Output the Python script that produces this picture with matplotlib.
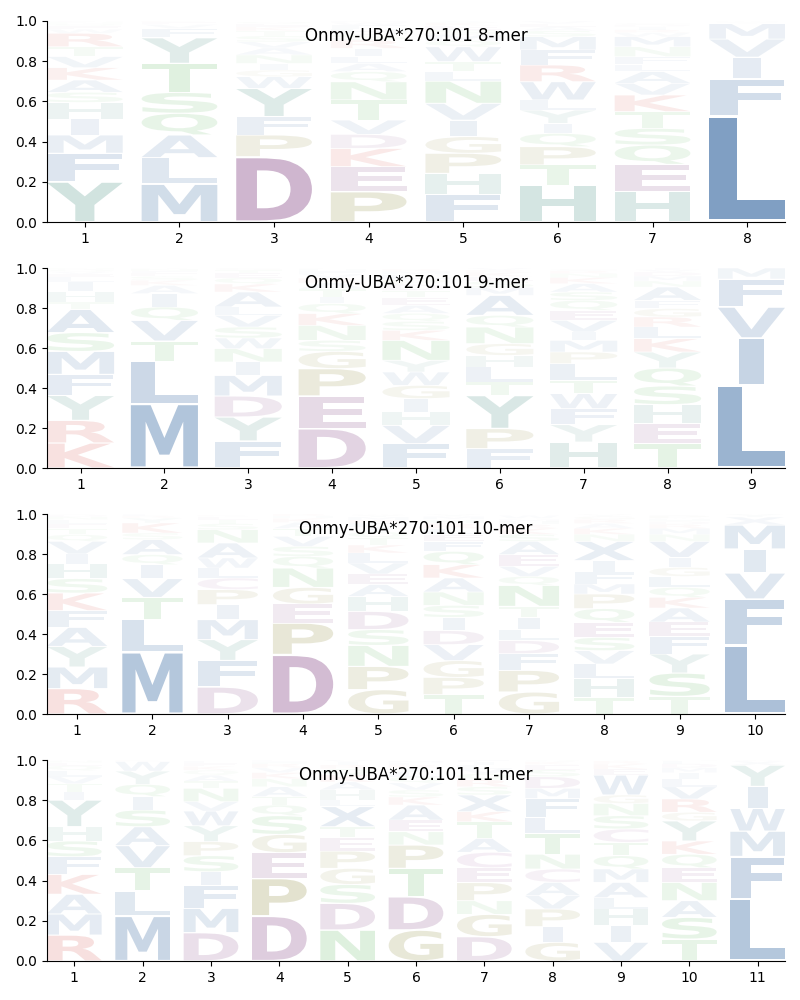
import matplotlib
matplotlib.use("Agg")
import matplotlib.pyplot as plt
from matplotlib.textpath import TextPath
from matplotlib.patches import PathPatch
from matplotlib.font_manager import FontProperties
from matplotlib.transforms import Affine2D

# ---------------- data (bottom -> top per position) ----------------
allele = "Onmy-UBA*270:101"

letters_8 = ["YFMIHSAKVTRWEQNC", "MLAQSTYFVEK", "DPFYWGINAVSTKEQ",
             "PEKDVTNQALIRSHFWM", "FHPGIVNLTWQMSEKA", "HTPQIYLWRFMSAEV",
             "HEQSTKVALFNMWRIDG", "LFIVMYW"]
freqs_8 = [
    [.2, .142, .091, .079, .083, .05, .061, .062, .055, .049, .067, .02, .015, .012, .008, .006],
    [.189, .131, .113, .108, .104, .144, .128, .046, .02, .012, .008],
    [.325, .108, .091, .141, .058, .033, .033, .042, .035, .03, .03, .025, .02, .015, .01],
    [.151, .124, .091, .07, .071, .1, .091, .05, .041, .034, .041, .041, .03, .025, .02, .012, .008],
    [.138, .104, .1, .083, .082, .083, .111, .047, .05, .074, .03, .03, .025, .02, .015, .008],
    [.184, .1, .091, .066, .05, .066, .05, .091, .083, .075, .066, .03, .02, .015, .013],
    [.151, .136, .096, .083, .083, .083, .058, .058, .036, .039, .049, .05, .02, .015, .015, .01, .008],
    [.53, .183, .107, .09, .077, .008, .005],
]

letters_9 = ["KRYFMSATHILEVQN", "MLTVQIAKSEFNR", "FYDMINWSVLAKQETG",
             "DEPGSNKQITARVFHL", "FVHIGWYNKSQAETDPLMR", "FPYTLHGNQAMSEKRV",
             "HYFWTLPMIVEQSAKNRG", "TEHSQYKLRGFANMDVI", "LIVFM"]
freqs_9 = [
    [.125, .113, .125, .105, .115, .094, .116, .037, .053, .047, .025, .015, .012, .01, .008],
    [.322, .213, .1, .103, .067, .067, .041, .025, .02, .015, .012, .01, .005],
    [.135, .12, .105, .103, .067, .067, .053, .055, .058, .042, .075, .04, .03, .025, .015, .01],
    [.197, .163, .137, .086, .055, .075, .059, .05, .033, .04, .03, .025, .02, .015, .01, .005],
    [.122, .091, .067, .067, .066, .067, .058, .1, .05, .045, .04, .04, .04, .035, .03, .025, .025, .015, .012],
    [.097, .1, .166, .067, .075, .058, .059, .083, .058, .1, .04, .03, .025, .02, .012, .01],
    [.13, .087, .08, .075, .066, .084, .058, .058, .042, .058, .05, .05, .042, .042, .03, .02, .015, .008],
    [.122, .1, .095, .093, .09, .08, .067, .058, .05, .042, .041, .067, .03, .025, .02, .012, .008],
    [.415, .235, .155, .14, .055],
]

letters_10 = ["RMYAFKSHIVQTELND", "MLTVIQASKYRF", "DFYMIPCLWANSTEK",
              "DPEGNQSVTAKHR", "GPNSDHAEVLKTQIFRMYW", "TPGVDISNAKQFELRHMY",
              "GPFDLITNQVEASKRHMYW", "THLVSEQPMFIXNKARGY", "TSYFEAKQLGIVNMRDHWP",
              "LFVIMXY"]
freqs_10 = [
    [.127, .108, .103, .095, .084, .088, .072, .073, .05, .063, .034, .03, .025, .02, .015, .01],
    [.31, .162, .111, .094, .07, .05, .075, .033, .05, .025, .012, .008],
    [.135, .133, .104, .1, .075, .075, .058, .05, .05, .075, .067, .03, .02, .015, .008],
    [.297, .158, .095, .083, .097, .058, .05, .05, .04, .03, .02, .012, .01],
    [.122, .116, .105, .079, .091, .075, .059, .053, .055, .05, .04, .035, .03, .025, .02, .015, .015, .01, .005],
    [.097, .086, .084, .08, .07, .066, .06, .067, .07, .067, .066, .05, .035, .03, .025, .02, .015, .01],
    [.11, .108, .084, .065, .055, .061, .055, .105, .045, .05, .059, .066, .035, .03, .02, .015, .01, .005, .015],
    [.083, .094, .073, .067, .066, .075, .069, .073, .05, .06, .057, .096, .035, .03, .025, .02, .015, .01],
    [.088, .117, .095, .088, .072, .07, .053, .05, .055, .045, .05, .08, .035, .03, .02, .015, .01, .005, .015],
    [.345, .23, .13, .12, .12, .04, .015],
]

letters_11 = ["RMAKFSHYITVLQENG", "MLTVASIQYWK", "DMFISPYWVNTAQKEL",
              "DPEGSQTANKVRHL", "NDSGPETXLHAKQRIV", "GDTPNEAKSVQLIRFM",
              "DGNPECATKXSRQVLIF", "GIPVACNTLFMDSEKQ", "VIHLAMQTCSNGWEKRY",
              "TSANEQKYGRVLIMDFH", "LFMWIYXV"]
freqs_11 = [
    [.129, .105, .098, .099, .088, .078, .071, .133, .041, .04, .035, .03, .025, .015, .01, .005],
    [.224, .124, .116, .11, .094, .083, .067, .061, .066, .047, .008],
    [.141, .121, .113, .069, .08, .07, .079, .073, .047, .066, .035, .03, .025, .02, .015, .01],
    [.224, .187, .128, .091, .093, .053, .042, .049, .04, .03, .025, .02, .01, .008],
    [.154, .133, .094, .08, .086, .067, .054, .1, .033, .05, .04, .035, .03, .02, .015, .01],
    [.154, .166, .141, .116, .066, .058, .075, .04, .035, .035, .03, .025, .02, .015, .01, .01],
    [.121, .111, .068, .09, .074, .077, .069, .083, .05, .083, .041, .035, .03, .025, .02, .015, .01],
    [.093, .078, .088, .066, .066, .067, .073, .104, .078, .096, .05, .058, .035, .025, .015, .008],
    [.093, .083, .083, .056, .076, .067, .066, .066, .067, .066, .061, .042, .099, .03, .025, .015, .005],
    [.109, .108, .083, .091, .073, .067, .066, .1, .043, .066, .061, .04, .03, .025, .02, .015, .005],
    [.31, .21, .126, .113, .11, .105, .02, .006],
]

panels = [("8-mer", letters_8, freqs_8), ("9-mer", letters_9, freqs_9),
          ("10-mer", letters_10, freqs_10), ("11-mer", letters_11, freqs_11)]

# ---------------- style ----------------
blue = (15/255, 75/255, 143/255)
teal = (25/255, 115/255, 98/255)
green = (44/255, 160/255, 44/255)
olive = (110/255, 105/255, 0/255)
red = (200/255, 20/255, 10/255)
purple = (108/255, 33/255, 108/255)
cpurple = (130/255, 50/255, 130/255)
colors = {}
for c in "AVLIMFWX":
    colors[c] = blue
for c in "HY":
    colors[c] = teal
for c in "NSTQ":
    colors[c] = green
for c in "GP":
    colors[c] = olive
for c in "KR":
    colors[c] = red
for c in "DE":
    colors[c] = purple
colors["C"] = cpurple

fp = FontProperties(family="DejaVu Sans", weight="bold")
_cache = {}


def glyph(ch):
    if ch not in _cache:
        p = TextPath((0, 0), ch, size=1, prop=fp)
        _cache[ch] = (p, p.get_extents())
    return _cache[ch]


_, ext_E = glyph("E")

COLW = 0.8
VPAD = 0.05


def draw_letter(ax, ch, x, y0, h):
    p, ext = glyph(ch)
    hs = min(COLW / ext.width, COLW / ext_E.width)
    w = ext.width * hs
    gh = h * (1 - VPAD)
    gy = y0 + h * VPAD / 2
    t = (Affine2D().translate(-ext.x0, -ext.y0)
         .scale(hs, gh / ext.height)
         .translate(x - w / 2, gy))
    patch = PathPatch(t.transform_path(p), facecolor=colors[ch],
                      edgecolor="none", linewidth=0, alpha=min(1.0, h))
    ax.add_patch(patch)


fig = plt.figure(figsize=(8, 10), dpi=100)
bottoms = [0.778, 0.532, 0.286, 0.039]
heights = [0.201, 0.200, 0.200, 0.201]

for (name, lets, frs), b, hh in zip(panels, bottoms, heights):
    ax = fig.add_axes([0.05875, b, 0.9225, hh])
    n = len(lets)
    for i, (ls, fs) in enumerate(zip(lets, frs)):
        if len(ls) != len(fs):
            print("length mismatch", name, i + 1, len(ls), len(fs))
        y = 0.0
        for ch, f in zip(ls, fs):
            draw_letter(ax, ch, i + 1, y, f)
            y += f
    ax.set_xlim(0.6, n + 0.4)
    ax.set_ylim(0, 1)
    ax.set_xticks(range(1, n + 1))
    ax.set_yticks([0, 0.2, 0.4, 0.6, 0.8, 1.0])
    ax.set_yticklabels(["0.0", "0.2", "0.4", "0.6", "0.8", "1.0"])
    ax.spines["top"].set_visible(False)
    ax.spines["right"].set_visible(False)
    ax.text(0.5, 0.925, f"{allele} {name}", transform=ax.transAxes,
            ha="center", va="center", fontsize=12)

fig.savefig("out.png", dpi=100)
